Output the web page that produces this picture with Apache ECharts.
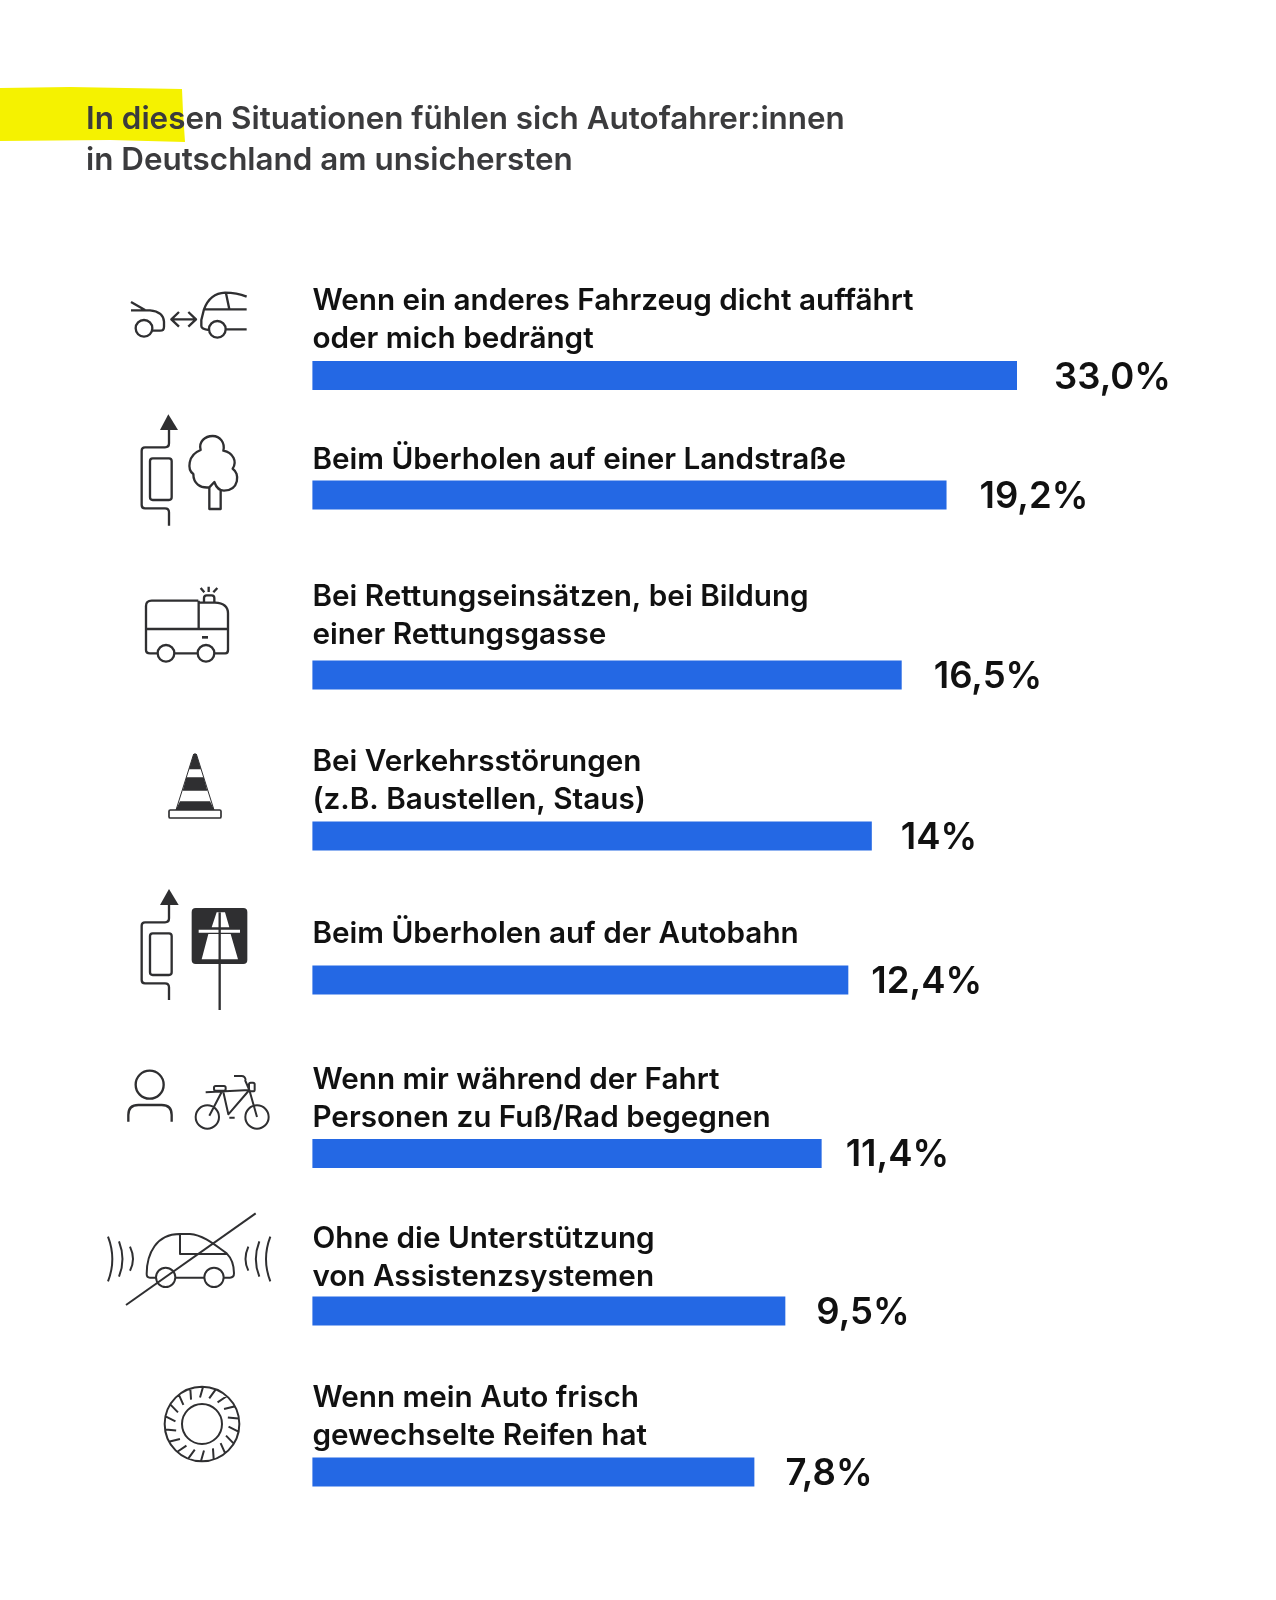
<!DOCTYPE html>
<html>
<head>
<meta charset="utf-8">
<title>Autofahrer:innen</title>
<script src="https://cdn.jsdelivr.net/npm/echarts@6/dist/echarts.min.js"></script>
<style>
html, body { margin: 0; padding: 0; background: #fff; }
#main { width: 1276px; height: 1600px; }
</style>
</head>
<body>
<div id="main"></div>
<script>
var headline = 'In diesen Situationen fühlen sich Autofahrer:innen\nin Deutschland am unsichersten';
var categories = [
    'Wenn ein anderes Fahrzeug dicht auffährt\noder mich bedrängt',
    'Beim Überholen auf einer Landstraße',
    'Bei Rettungseinsätzen, bei Bildung\neiner Rettungsgasse',
    'Bei Verkehrsstörungen\n(z.B. Baustellen, Staus)',
    'Beim Überholen auf der Autobahn',
    'Wenn mir während der Fahrt\nPersonen zu Fuß/Rad begegnen',
    'Ohne die Unterstützung\nvon Assistenzsystemen',
    'Wenn mein Auto frisch\ngewechselte Reifen hat'
];
var valueLabels = ['33,0%', '19,2%', '16,5%', '14%', '12,4%', '11,4%', '9,5%', '7,8%'];
// the bars in the picture are not proportional to their printed numbers,
// so these are the lengths as drawn, read off on a scale where the top bar is 33
var drawnLengths = [33, 29.7, 27.6, 26.2, 25.1, 23.85, 22.15, 20.7];

// layout of the rows
var FONT = 'Inter';
var barLeft = 312.4, barWidth = 704.6, barHeight = 29;
var barCenters = [375.6, 495, 675, 836, 980, 1153.5, 1311, 1472];
var textTops = [282, 441, 578, 743, 915, 1061, 1220, 1379];
var labelGaps = [37, 33, 32, 29, 23, 24, 31, 31];

var myChart = echarts.init(document.getElementById('main'));

var titles = [{
    text: headline, left: 86, top: 99, padding: 0,
    textStyle: { fontFamily: FONT, fontSize: 31.4, fontWeight: 600, color: '#3b3b3d', lineHeight: 41 }
}];
var grids = [], xAxes = [], yAxes = [], series = [];
categories.forEach(function (name, i) {
    titles.push({
        text: name, left: barLeft, top: textTops[i], padding: 0,
        textStyle: { fontFamily: FONT, fontSize: 29.7, fontWeight: 600, color: '#111', lineHeight: 38 }
    });
    grids.push({ left: barLeft, width: barWidth, top: barCenters[i] - barHeight / 2, height: barHeight });
    xAxes.push({ gridIndex: i, type: 'value', min: 0, max: 33, show: false });
    yAxes.push({ gridIndex: i, type: 'category', data: [name], show: false });
    series.push({
        type: 'bar', xAxisIndex: i, yAxisIndex: i, barWidth: barHeight,
        data: [drawnLengths[i]],
        itemStyle: { color: '#2468e4' },
        silent: true,
        label: {
            show: true, position: 'right', distance: labelGaps[i], offset: [0, 2],
            formatter: valueLabels[i],
            fontFamily: FONT, fontSize: 36.5, fontWeight: 600, color: '#111'
        }
    });
});

// icons are traced in 3x crop coordinates, ox/oy is the crop origin
var INK = '#2f2f31';
function stroke(ox, oy, d, w) {
    return {
        type: 'path', x: ox, y: oy, scaleX: 1 / 3, scaleY: 1 / 3,
        shape: { pathData: d },
        style: { fill: 'none', stroke: INK, lineWidth: w || 7, lineJoin: 'round', lineCap: 'butt' }
    };
}
function solid(ox, oy, d, color) {
    return {
        type: 'path', x: ox, y: oy, scaleX: 1 / 3, scaleY: 1 / 3,
        shape: { pathData: d },
        style: { fill: color || INK, stroke: 'none' }
    };
}
function ring(cx, cy, r) {
    return 'M' + (cx - r) + ' ' + cy + ' A' + r + ' ' + r + ' 0 1 0 ' + (cx + r) + ' ' + cy + ' A' + r + ' ' + r + ' 0 1 0 ' + (cx - r) + ' ' + cy + ' ';
}
function box(x, y, w, h, r) {
    return 'M' + (x + r) + ' ' + y + ' L' + (x + w - r) + ' ' + y + ' Q' + (x + w) + ' ' + y + ' ' + (x + w) + ' ' + (y + r) +
        ' L' + (x + w) + ' ' + (y + h - r) + ' Q' + (x + w) + ' ' + (y + h) + ' ' + (x + w - r) + ' ' + (y + h) +
        ' L' + (x + r) + ' ' + (y + h) + ' Q' + x + ' ' + (y + h) + ' ' + x + ' ' + (y + h - r) +
        ' L' + x + ' ' + (y + r) + ' Q' + x + ' ' + y + ' ' + (x + r) + ' ' + y + ' Z ';
}
function treadTicks(cx, cy) {
    var d = '';
    for (var k = 0; k < 18; k++) {
        var a = k * Math.PI / 9 + 0.1;
        var b = a + 0.1;
        d += 'M' + (cx + 80 * Math.cos(a)) + ' ' + (cy + 80 * Math.sin(a)) + ' L' + (cx + 110 * Math.cos(b)) + ' ' + (cy + 110 * Math.sin(b)) + ' ';
    }
    return d;
}

var icons = [
    // tailgating cars
    stroke(100, 270, 'M93 96 L135 120 M93 121 L150 121 Q190 125 192 155 L192 170 Q192 182 180 182 L158 182 ' + ring(132, 175, 25)),
    stroke(100, 270, 'M215 148 L288 148 M237 126 L214 148 L237 170 M265 126 L288 148 L265 170'),
    stroke(100, 270, 'M440 80 Q410 68 375 68 Q330 70 312 118 L304 150 L304 168 Q304 178 328 180 ' + ring(352, 178, 25) + 'M378 178 L440 178 M310 118 L440 118 M378 70 L388 118'),
    // overtaking on a country road
    solid(100, 270, 'M205 433 L234 480 L180 480 Z'),
    stroke(100, 270, 'M207 480 L207 520 Q207 532 195 532 L135 532 Q125 532 125 542 L125 705 Q125 715 135 715 L195 715 Q207 715 207 727 L207 767 ' + box(150, 565, 65, 125, 8)),
    stroke(100, 270, 'M328 652 C300 655 280 640 280 612 C262 600 262 555 302 540 C295 515 315 498 338 498 C360 498 376 518 370 542 C400 548 412 575 398 596 C420 610 418 660 372 662 C358 662 348 650 343 636 L328 652 L328 717 L362 717 L362 662'),
    // emergency vehicle
    stroke(100, 570, 'M295 92 L155 92 Q138 92 138 108 L138 240 Q138 250 150 250 L172 250 M224 250 L292 250 M344 250 L376 250 Q384 250 384 240 L384 130 Q384 100 345 98 L295 98 M296 92 L296 177 M138 177 L384 177 ' + ring(198, 250, 25) + ring(318, 250, 25)),
    stroke(100, 570, 'M312 98 L312 84 Q312 76 320 76 L335 76 Q343 76 343 84 L343 98 M302 54 L313 67 M326 50 L326 66 M352 54 L340 67'),
    stroke(100, 570, 'M306 202 L324 202', 8),
    // traffic cone
    solid(100, 570, 'M281 552 Q285 547 289 552 L303 598 L267 598 Z M259 622 L311 622 L322 662 L248 662 Z M240 694 L330 694 L343 720 L227 720 Z'),
    stroke(100, 570, 'M281 552 L228 720 M289 552 L342 720', 3),
    stroke(100, 570, box(207, 720, 156, 24, 4), 5),
    // overtaking on the motorway
    solid(100, 880, 'M207 27 L236 75 L180 75 Z'),
    stroke(100, 880, 'M207 75 L207 115 Q207 127 195 127 L135 127 Q125 127 125 137 L125 300 Q125 310 135 310 L195 310 Q207 310 207 322 L207 360 ' + box(150, 160, 65, 125, 8)),
    solid(100, 880, box(275, 84, 167, 168, 12)),
    solid(100, 880, 'M335 142 L350 97 L375 97 L388 142 Z M296 149 L420 149 L420 158 L296 158 Z M325 162 L392 162 L414 238 L305 238 Z', '#fff'),
    stroke(100, 880, 'M359 97 L359 390', 7),
    // person and bicycle
    stroke(100, 880, ring(149, 614, 42) + 'M85 725 L85 705 Q85 675 115 675 L185 675 Q215 675 215 705 L215 725'),
    stroke(100, 880, ring(322, 711, 35) + ring(471, 711, 35) + 'M317 637 L448 630 M370 636 L385 703 L448 630 M365 636 L328 707 M448 630 L471 711 M435 600 L448 630 M402 588 L425 588 Q435 588 437 600 M388 713 L404 713 ' + box(342, 618, 35, 14, 5) + box(447, 608, 17, 26, 5), 6),
    // no assistance systems
    stroke(90, 1200, 'M54 110 Q80 178 54 244 M87 124 Q108 178 87 230 M120 140 Q138 178 120 212 M541 110 Q515 178 541 244 M508 124 Q487 178 508 230 M475 140 Q458 178 475 212', 6),
    stroke(90, 1200, 'M198 233 L180 233 Q170 233 170 222 C170 160 200 102 268 102 L300 102 C340 105 375 135 410 160 C425 175 432 195 432 220 Q432 233 420 233 L402 233 M256 233 L342 233 M270 102 L270 162 L410 162 ' + ring(227, 232, 29) + ring(372, 232, 29), 6),
    stroke(90, 1200, 'M108 315 L497 40', 6),
    // tyre
    stroke(90, 1200, ring(336, 672, 112) + ring(336, 672, 60) + treadTicks(336, 672), 6)
];

// the graphic component has no free path type, so the icons go through a custom series
series.push({
    type: 'custom', coordinateSystem: 'none', silent: true, data: [0],
    renderItem: function () {
        return { type: 'group', children: icons };
    }
});

var option = {
    backgroundColor: '#fff',
    animation: false,
    title: titles,
    grid: grids,
    xAxis: xAxes,
    yAxis: yAxes,
    series: series,
    graphic: [{
        // yellow marker behind the headline
        type: 'polygon', silent: true, z: -1,
        shape: { points: [[0, 88], [70, 87], [182, 89], [183, 112], [185, 142], [110, 140], [0, 141]] },
        style: { fill: '#f5f200' }
    }]
};
myChart.setOption(option);
</script>
</body>
</html>
